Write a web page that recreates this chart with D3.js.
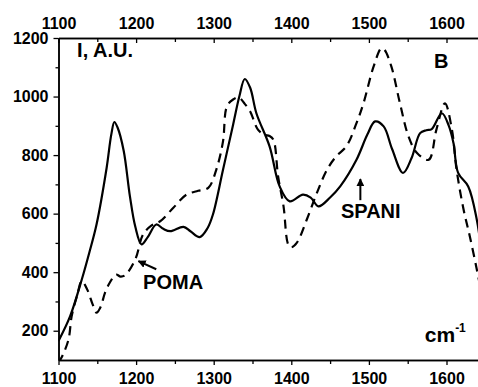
<!DOCTYPE html>
<html>
<head>
<meta charset="utf-8">
<script src="https://cdn.jsdelivr.net/npm/d3@7"></script>
<style>
  body { margin: 0; background: #fff; }
  text { font-family: "Liberation Sans", Arial, sans-serif; font-weight: bold; }
</style>
</head>
<body>
<div id="viz-container"></div>
<script>
// spectrum B: solid line and dashed line
let solidX = [1100, 1115, 1130, 1140, 1149, 1162, 1168, 1172, 1176, 1184, 1192, 1199, 1207, 1215, 1226, 1235, 1244, 1261, 1270, 1282, 1292, 1299, 1312, 1325, 1333, 1340, 1347, 1355, 1372, 1385, 1398, 1415, 1425, 1435, 1450, 1463, 1484, 1498, 1508, 1519, 1530, 1544, 1555, 1566, 1574, 1581, 1594, 1603, 1609, 1615, 1628, 1639, 1645];
let solidY = [165, 250, 375, 470, 563, 756, 870, 913, 895, 815, 660, 555, 495, 520, 563, 548, 540, 555, 540, 520, 550, 597, 750, 904, 1000, 1060, 1030, 943, 830, 693, 642, 665, 655, 625, 655, 693, 784, 870, 915, 898, 820, 739, 790, 875, 885, 889, 943, 900, 841, 739, 693, 580, 470];

let dashX = [1100, 1106, 1113, 1117, 1124, 1130, 1137, 1144, 1149, 1154, 1160, 1166, 1174, 1180, 1186, 1199, 1209, 1220, 1231, 1248, 1265, 1280, 1293, 1304, 1312, 1317, 1325, 1332, 1340, 1347, 1357, 1365, 1372, 1377, 1383, 1390, 1396, 1400, 1407, 1420, 1433, 1446, 1458, 1471, 1484, 1493, 1506, 1516, 1520, 1529, 1540, 1551, 1562, 1577, 1587, 1598, 1607, 1613, 1622, 1630, 1639, 1645];
let dashY = [90, 120, 171, 250, 320, 370, 341, 290, 262, 280, 330, 364, 392, 385, 390, 444, 529, 560, 574, 620, 665, 678, 688, 756, 847, 966, 990, 997, 975, 949, 887, 870, 865, 852, 727, 625, 495, 485, 500, 580, 671, 750, 796, 830, 909, 977, 1102, 1165, 1160, 1102, 977, 864, 807, 784, 887, 977, 887, 750, 614, 523, 410, 330];

let xMajor = [1100, 1200, 1300, 1400, 1500, 1600];
let xMinor = [1150, 1250, 1350, 1450, 1550];
let yMajor = [200, 400, 600, 800, 1000, 1200];
let yMinor = [300, 500, 700, 900, 1100];

let W = 478, H = 387;
let plotLeft = 58.5, plotTop = 38, plotBottom = 360;

let x = d3.scaleLinear().domain([1100, 1650]).range([plotLeft, plotLeft + 550 * 0.776]);
let y = d3.scaleLinear().domain([100, 1200]).range([plotBottom, plotTop]);

let viz = d3.select("#viz-container")
  .append("svg")
    .attr("width", W)
    .attr("height", H)
;

viz.append("clipPath").attr("id", "plotclip")
  .append("rect")
    .attr("x", plotLeft)
    .attr("y", plotTop)
    .attr("width", W - plotLeft)
    .attr("height", plotBottom - plotTop)
;

let line = d3.line()
  .x(d => x(d[0]))
  .y(d => y(d[1]))
  .curve(d3.curveCatmullRom.alpha(0.5));

let plot = viz.append("g").attr("clip-path", "url(#plotclip)");

plot.append("path")
  .datum(solidX.map((v, i) => [v, solidY[i]]))
  .attr("d", line)
  .attr("fill", "none")
  .attr("stroke", "black")
  .attr("stroke-width", 2.2);

plot.append("path")
  .datum(dashX.map((v, i) => [v, dashY[i]]))
  .attr("d", line)
  .attr("fill", "none")
  .attr("stroke", "black")
  .attr("stroke-width", 2.2)
  .attr("stroke-dasharray", "9,6");

// axes
function styleAxis(g) {
  g.selectAll("path").attr("stroke", "black").attr("stroke-width", 1.5);
  g.selectAll("line").attr("stroke", "black").attr("stroke-width", 1.3);
  g.selectAll("text").attr("fill", "black").style("font-size", "16px");
}

viz.append("g")
  .attr("transform", `translate(0,${plotBottom})`)
  .call(d3.axisBottom(x).tickValues(xMajor).tickFormat(d3.format("d")).tickSizeInner(5).tickSizeOuter(0).tickPadding(8))
  .call(styleAxis);
viz.append("g")
  .attr("transform", `translate(0,${plotBottom})`)
  .call(d3.axisBottom(x).tickValues(xMinor).tickFormat("").tickSizeInner(4).tickSizeOuter(0))
  .call(styleAxis);

viz.append("g")
  .attr("transform", `translate(0,${plotTop})`)
  .call(d3.axisTop(x).tickValues(xMajor).tickFormat(d3.format("d")).tickSizeInner(-5).tickSizeOuter(0).tickPadding(9))
  .call(styleAxis);
viz.append("g")
  .attr("transform", `translate(0,${plotTop})`)
  .call(d3.axisTop(x).tickValues(xMinor).tickFormat("").tickSizeInner(-4).tickSizeOuter(0))
  .call(styleAxis);

viz.append("g")
  .attr("transform", `translate(${plotLeft},0)`)
  .call(d3.axisLeft(y).tickValues(yMajor).tickFormat(d3.format("d")).tickSizeInner(5).tickSizeOuter(0).tickPadding(5))
  .call(styleAxis);
viz.append("g")
  .attr("transform", `translate(${plotLeft},0)`)
  .call(d3.axisLeft(y).tickValues(yMinor).tickFormat("").tickSizeInner(3).tickSizeOuter(0))
  .call(styleAxis);

// labels
viz.append("text").attr("x", x(1124)).attr("y", y(1135))
  .style("font-size", "20px").text("I, A.U.");
viz.append("text").attr("x", x(1584)).attr("y", y(1097))
  .style("font-size", "20px").text("B");
viz.append("text").attr("x", x(1464)).attr("y", y(586))
  .style("font-size", "20px").text("SPANI");
viz.append("text").attr("x", x(1209)).attr("y", y(341))
  .style("font-size", "20px").text("POMA");

let unit = viz.append("text").attr("x", x(1572)).attr("y", y(160))
  .style("font-size", "21px");
unit.append("tspan").text("cm");
unit.append("tspan").attr("dy", -10).style("font-size", "12px").text("-1");

// arrows
viz.append("defs").append("marker")
  .attr("id", "head")
  .attr("viewBox", "0 0 10 10")
  .attr("refX", 9).attr("refY", 5)
  .attr("markerWidth", 4).attr("markerHeight", 4)
  .attr("markerUnits", "strokeWidth")
  .attr("orient", "auto")
  .append("path").attr("d", "M0,0 L10,5 L0,10 z").attr("fill", "black");

viz.append("line")
  .attr("x1", x(1226)).attr("y1", y(410))
  .attr("x2", x(1203)).attr("y2", y(438))
  .attr("stroke", "black").attr("stroke-width", 2)
  .attr("marker-end", "url(#head)");

viz.append("line")
  .attr("x1", x(1489)).attr("y1", y(646))
  .attr("x2", x(1489)).attr("y2", y(718))
  .attr("stroke", "black").attr("stroke-width", 2)
  .attr("marker-end", "url(#head)");
</script>
</body>
</html>
